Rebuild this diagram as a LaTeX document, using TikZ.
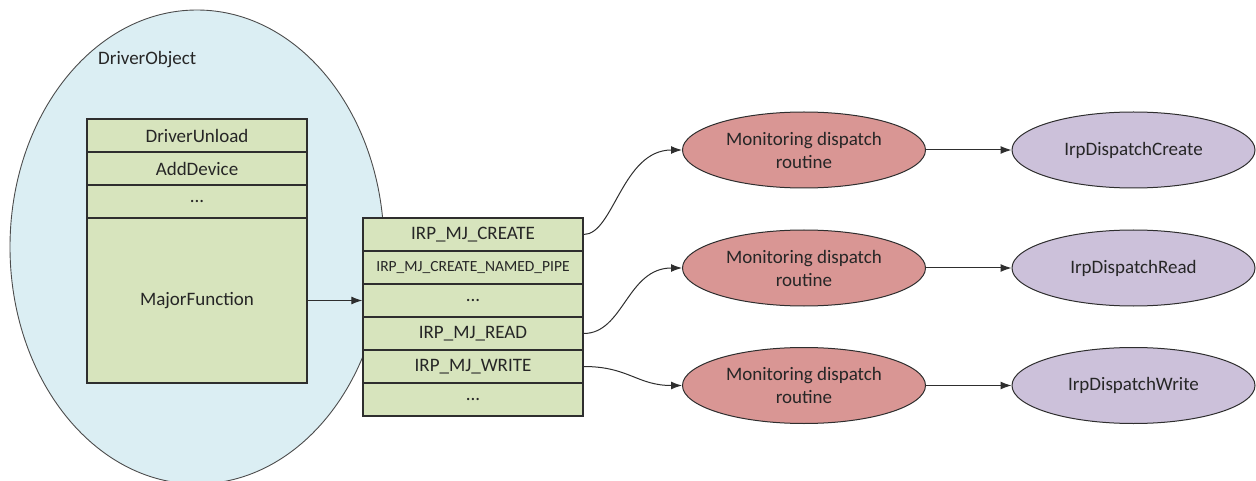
\documentclass[tikz,border=0pt]{standalone}
\usepackage{fontspec}
\setmainfont{Carlito}
\usetikzlibrary{arrows.meta,shapes.geometric}
\definecolor{blueF}{HTML}{DBEEF3}
\definecolor{greenF}{HTML}{D7E4BD}
\definecolor{redF}{HTML}{D99694}
\definecolor{purpF}{HTML}{CCC1DA}
\definecolor{lineC}{HTML}{2E2E2E}
\definecolor{txtC}{HTML}{262626}
\tikzset{
  cell/.style={draw=lineC, line width=1.3pt, fill=greenF, minimum width=220pt, minimum height=33pt, inner sep=0pt, text=txtC, font=\fontsize{19}{23}\selectfont},
  smallcell/.style={cell, font=\fontsize{15.5}{18}\selectfont},
  redell/.style={ellipse, draw=lineC, line width=1pt, fill=redF, minimum width=243pt, minimum height=76pt, inner sep=0pt, align=center, text=txtC, font=\fontsize{19}{23}\selectfont},
  purpell/.style={ellipse, draw=lineC, line width=1pt, fill=purpF, minimum width=243pt, minimum height=76pt, inner sep=0pt, text=txtC, font=\fontsize{19}{23}\selectfont},
  arr/.style={draw=lineC, line width=1pt, -{Latex[length=11pt,width=8pt]}}
}
\begin{document}
\begin{tikzpicture}[x=1pt,y=-1pt]
\useasboundingbox (0,0) rectangle (1256,481);
% driver object ellipse
\node[ellipse, draw=black!70, line width=0.9pt, fill=blueF, minimum width=374pt, minimum height=474pt, inner sep=0pt] (drv) at (197,247) {};
\node[anchor=west, text=txtC, font=\fontsize{19}{23}\selectfont, inner sep=0pt] (drvlbl) at (98,60) {DriverObject};
% left table
\node[cell] (l1) at (197,135.5) {DriverUnload};
\node[cell] (l2) at (197,168.5) {AddDevice};
\node[cell] (l3) at (197,201.5) {...};
\node[cell, minimum height=165pt] (l4) at (197,300.5) {MajorFunction};
% right table
\node[cell] (r1) at (473,234.5) {IRP\_MJ\_CREATE};
\node[smallcell] (r2) at (473,267.5) {IRP\_MJ\_CREATE\_NAMED\_PIPE};
\node[cell] (r3) at (473,300.5) {...};
\node[cell] (r4) at (473,333.5) {IRP\_MJ\_READ};
\node[cell] (r5) at (473,366.5) {IRP\_MJ\_WRITE};
\node[cell] (r6) at (473,399.5) {...};
% monitoring ellipses
\node[redell] (m1) at (804,150) {Monitoring dispatch\\routine};
\node[redell] (m2) at (804,268) {Monitoring dispatch\\routine};
\node[redell] (m3) at (804,385.5) {Monitoring dispatch\\routine};
% dispatch ellipses
\node[purpell] (d1) at (1133.5,150) {IrpDispatchCreate};
\node[purpell] (d2) at (1133.5,268) {IrpDispatchRead};
\node[purpell] (d3) at (1133.5,385.5) {IrpDispatchWrite};
% connectors
\draw[arr] (l4.east) -- (r3.west);
\draw[arr] (r1.east) .. controls +(30,0) and +(-60,0) .. (m1.west);
\draw[arr] (r4.east) .. controls +(40,0) and +(-55,0) .. (m2.west);
\draw[arr] (r5.east) .. controls +(45,0) and +(-45,0) .. (m3.west);
\draw[arr] (m1.east) -- (d1.west);
\draw[arr] (m2.east) -- (d2.west);
\draw[arr] (m3.east) -- (d3.west);
\end{tikzpicture}
\end{document}
